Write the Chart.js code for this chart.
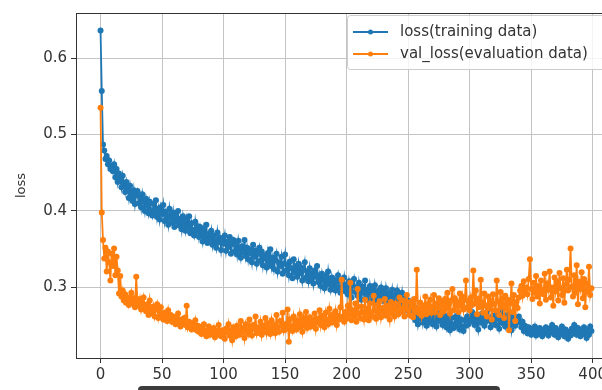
<!DOCTYPE html>
<html>
<head>
<meta charset="utf-8">
<script src="https://cdn.jsdelivr.net/npm/chart.js@4"></script>
<style>
  body { margin: 0; background: #fff; overflow: hidden; width: 602px; height: 390px; }
  .wrap { position: relative; width: 626px; height: 390px; }
  .scrollbar { position: absolute; left: 138px; top: 386px; width: 362px; height: 8px; background: #3c3c3c; border-radius: 4px; }
</style>
</head>
<body>
<div class="wrap"><canvas id="myChart" width="626" height="390"></canvas></div>
<div class="scrollbar"></div>
<script>
const xTicks = [0, 50, 100, 150, 200, 250, 300, 350, 400];
const yTicks = [0.3, 0.4, 0.5, 0.6];

// loss(training data), one value per epoch
const loss = [
  0.636, 0.557, 0.487, 0.479, 0.468, 0.472, 0.461, 0.466, 0.455, 0.459,
  0.452, 0.461, 0.444, 0.455, 0.438, 0.449, 0.442, 0.431, 0.446, 0.436,
  0.425, 0.438, 0.429, 0.417, 0.433, 0.422, 0.413, 0.427, 0.409, 0.421,
  0.426, 0.410, 0.419, 0.405, 0.422, 0.412, 0.400, 0.416, 0.407, 0.397,
  0.412, 0.401, 0.394, 0.409, 0.398, 0.414, 0.392, 0.403, 0.389, 0.405,
  0.396, 0.408, 0.387, 0.399, 0.393, 0.382, 0.403, 0.391, 0.385, 0.398,
  0.379, 0.394, 0.386, 0.400, 0.381, 0.390, 0.376, 0.393, 0.383, 0.374,
  0.389, 0.378, 0.393, 0.371, 0.384, 0.375, 0.368, 0.386, 0.373, 0.380,
  0.366, 0.379, 0.371, 0.360, 0.376, 0.364, 0.382, 0.358, 0.370, 0.363,
  0.374, 0.356, 0.368, 0.361, 0.352, 0.372, 0.359, 0.365, 0.349, 0.363,
  0.357, 0.368, 0.348, 0.360, 0.353, 0.366, 0.344, 0.357, 0.362, 0.347,
  0.356, 0.343, 0.361, 0.350, 0.339, 0.354, 0.346, 0.362, 0.341, 0.352,
  0.337, 0.350, 0.345, 0.333, 0.356, 0.340, 0.348, 0.331, 0.344, 0.352,
  0.335, 0.347, 0.329, 0.342, 0.338, 0.326, 0.345, 0.333, 0.350, 0.328,
  0.339, 0.324, 0.336, 0.344, 0.321, 0.333, 0.328, 0.340, 0.318, 0.331,
  0.343, 0.322, 0.330, 0.316, 0.334, 0.325, 0.312, 0.337, 0.320, 0.328,
  0.314, 0.331, 0.319, 0.326, 0.309, 0.323, 0.333, 0.313, 0.321, 0.308,
  0.325, 0.311, 0.318, 0.305, 0.322, 0.314, 0.328, 0.307, 0.316, 0.302,
  0.318, 0.309, 0.299, 0.315, 0.304, 0.321, 0.306, 0.297, 0.313, 0.303,
  0.310, 0.296, 0.307, 0.316, 0.300, 0.293, 0.309, 0.302, 0.313, 0.295,
  0.304, 0.291, 0.308, 0.298, 0.287, 0.303, 0.311, 0.294, 0.300, 0.289,
  0.306, 0.295, 0.284, 0.301, 0.293, 0.309, 0.288, 0.297, 0.283, 0.302,
  0.290, 0.298, 0.285, 0.303, 0.292, 0.280, 0.296, 0.289, 0.300, 0.284,
  0.294, 0.282, 0.299, 0.287, 0.276, 0.293, 0.285, 0.297, 0.279, 0.290,
  0.284, 0.296, 0.278, 0.289, 0.281, 0.293, 0.274, 0.286, 0.279, 0.270,
  0.283, 0.272, 0.266, 0.279, 0.262, 0.274, 0.257, 0.268, 0.252, 0.264,
  0.259, 0.270, 0.254, 0.266, 0.258, 0.250, 0.264, 0.255, 0.271, 0.261,
  0.252, 0.267, 0.258, 0.249, 0.263, 0.256, 0.269, 0.260, 0.251, 0.265,
  0.257, 0.248, 0.262, 0.254, 0.244, 0.260, 0.252, 0.247, 0.261, 0.250,
  0.263, 0.253, 0.245, 0.258, 0.249, 0.243, 0.257, 0.250, 0.262, 0.252,
  0.262, 0.256, 0.268, 0.258, 0.251, 0.263, 0.257, 0.245, 0.260, 0.254,
  0.266, 0.258, 0.250, 0.262, 0.256, 0.271, 0.259, 0.248, 0.255, 0.263,
  0.257, 0.251, 0.264, 0.259, 0.246, 0.256, 0.268, 0.253, 0.260, 0.249,
  0.258, 0.265, 0.252, 0.261, 0.244, 0.257, 0.263, 0.250, 0.259, 0.254,
  0.262, 0.256, 0.248, 0.255, 0.243, 0.250, 0.246, 0.240, 0.248, 0.243,
  0.238, 0.246, 0.241, 0.249, 0.237, 0.244, 0.239, 0.247, 0.242, 0.236,
  0.245, 0.240, 0.248, 0.243, 0.237, 0.246, 0.241, 0.251, 0.244, 0.238,
  0.247, 0.242, 0.235, 0.244, 0.239, 0.249, 0.243, 0.236, 0.245, 0.240,
  0.233, 0.242, 0.237, 0.246, 0.240, 0.251, 0.244, 0.238, 0.247, 0.241,
  0.236, 0.245, 0.239, 0.248, 0.242, 0.234, 0.244, 0.238, 0.249, 0.243
];

// val_loss(evaluation data), one value per epoch
const valLoss = [
  0.535, 0.398, 0.362, 0.338, 0.352, 0.321, 0.347, 0.333, 0.309, 0.344,
  0.328, 0.351, 0.316, 0.340, 0.322, 0.292, 0.315, 0.288, 0.296, 0.283,
  0.291, 0.280, 0.287, 0.277, 0.284, 0.293, 0.279, 0.286, 0.274, 0.314,
  0.281, 0.276, 0.285, 0.271, 0.279, 0.287, 0.273, 0.269, 0.278, 0.264,
  0.283, 0.270, 0.266, 0.275, 0.262, 0.271, 0.278, 0.260, 0.268, 0.274,
  0.263, 0.258, 0.267, 0.261, 0.256, 0.270, 0.259, 0.264, 0.255, 0.262,
  0.257, 0.252, 0.261, 0.266, 0.254, 0.249, 0.258, 0.253, 0.260, 0.251,
  0.276, 0.248, 0.255, 0.250, 0.245, 0.253, 0.247, 0.257, 0.244, 0.250,
  0.242, 0.248, 0.239, 0.246, 0.252, 0.241, 0.236, 0.244, 0.249, 0.238,
  0.245, 0.240, 0.247, 0.235, 0.243, 0.238, 0.251, 0.242, 0.236, 0.244,
  0.239, 0.233, 0.246, 0.241, 0.252, 0.237, 0.244, 0.231, 0.248, 0.242,
  0.236, 0.250, 0.243, 0.238, 0.256, 0.241, 0.247, 0.234, 0.252, 0.245,
  0.239, 0.258, 0.244, 0.237, 0.251, 0.246, 0.262, 0.240, 0.248, 0.243,
  0.255, 0.238, 0.250, 0.244, 0.260, 0.241, 0.253, 0.247, 0.239, 0.257,
  0.245, 0.251, 0.240, 0.264, 0.248, 0.242, 0.256, 0.250, 0.267, 0.244,
  0.252, 0.246, 0.271, 0.229, 0.258, 0.249, 0.243, 0.262, 0.251, 0.245,
  0.257, 0.248, 0.265, 0.253, 0.242, 0.260, 0.250, 0.268, 0.247, 0.255,
  0.261, 0.249, 0.258, 0.252, 0.266, 0.246, 0.259, 0.254, 0.270, 0.251,
  0.263, 0.256, 0.248, 0.267, 0.258, 0.252, 0.272, 0.260, 0.254, 0.265,
  0.257, 0.269, 0.251, 0.263, 0.258, 0.274, 0.310, 0.262, 0.255, 0.268,
  0.259, 0.276, 0.264, 0.306, 0.257, 0.270, 0.262, 0.279, 0.255, 0.298,
  0.266, 0.260, 0.275, 0.268, 0.258, 0.284, 0.263, 0.272, 0.257, 0.279,
  0.267, 0.262, 0.289, 0.270, 0.259, 0.277, 0.265, 0.282, 0.261, 0.273,
  0.268, 0.285, 0.263, 0.276, 0.270, 0.258, 0.281, 0.266, 0.274, 0.262,
  0.279, 0.271, 0.265, 0.287, 0.272, 0.268, 0.283, 0.262, 0.276, 0.290,
  0.270, 0.264, 0.281, 0.275, 0.261, 0.285, 0.268, 0.323, 0.272, 0.266,
  0.280, 0.263, 0.276, 0.269, 0.288, 0.265, 0.278, 0.272, 0.284, 0.267,
  0.275, 0.290, 0.268, 0.279, 0.273, 0.286, 0.264, 0.281, 0.276, 0.269,
  0.285, 0.272, 0.293, 0.277, 0.266, 0.283, 0.298, 0.270, 0.286, 0.275,
  0.281, 0.268, 0.292, 0.276, 0.288, 0.271, 0.284, 0.309, 0.274, 0.282,
  0.270, 0.287, 0.277, 0.322, 0.279, 0.296, 0.265, 0.285, 0.274, 0.310,
  0.280, 0.267, 0.292, 0.276, 0.262, 0.288, 0.273, 0.283, 0.258, 0.291,
  0.278, 0.270, 0.309, 0.282, 0.264, 0.294, 0.275, 0.286, 0.260, 0.289,
  0.272, 0.284, 0.244, 0.279, 0.305, 0.268, 0.290, 0.256, 0.281, 0.273,
  0.287, 0.296, 0.302, 0.289, 0.308, 0.294, 0.300, 0.291, 0.311, 0.337,
  0.298, 0.285, 0.306, 0.293, 0.315, 0.288, 0.302, 0.279, 0.309, 0.296,
  0.291, 0.318, 0.284, 0.305, 0.297, 0.321, 0.287, 0.300, 0.276, 0.313,
  0.295, 0.308, 0.283, 0.319, 0.299, 0.290, 0.312, 0.280, 0.304, 0.323,
  0.296, 0.310, 0.351, 0.301, 0.288, 0.316, 0.293, 0.329, 0.278, 0.307,
  0.298, 0.320, 0.286, 0.311, 0.274, 0.305, 0.294, 0.327, 0.290, 0.299
];

const FONT = 'DejaVu Sans';
const TEXT = '#333333';

function toPoints(values) {
  return values.map((v, i) => ({ x: i, y: v }));
}

// matplotlib-style frame (top / right spines) and legend box
const frameAndLegend = {
  id: 'frameAndLegend',
  afterDraw(chart) {
    const { ctx, chartArea } = chart;
    ctx.save();
    ctx.strokeStyle = '#333';
    ctx.lineWidth = 1;
    ctx.beginPath();
    ctx.moveTo(chartArea.left, chartArea.top + 0.5);
    ctx.lineTo(chartArea.right, chartArea.top + 0.5);
    ctx.lineTo(chartArea.right - 0.5, chartArea.bottom);
    ctx.stroke();

    // legend
    const bx = 347, by = 15, bw = 270, bh = 54;
    ctx.fillStyle = 'rgba(255,255,255,0.8)';
    ctx.strokeStyle = '#cccccc';
    ctx.beginPath();
    ctx.roundRect(bx + 0.5, by + 0.5, bw, bh, 3);
    ctx.fill();
    ctx.stroke();

    ctx.font = '15px ' + FONT;
    ctx.textBaseline = 'middle';
    chart.data.datasets.forEach((ds, i) => {
      const rowY = 32 + i * 22;
      ctx.strokeStyle = ds.borderColor;
      ctx.lineWidth = 1.8;
      ctx.beginPath();
      ctx.moveTo(353, rowY);
      ctx.lineTo(388, rowY);
      ctx.stroke();
      ctx.fillStyle = ds.borderColor;
      ctx.beginPath();
      ctx.arc(370.5, rowY, 2.5, 0, Math.PI * 2);
      ctx.fill();
      ctx.fillStyle = TEXT;
      ctx.fillText(ds.label, 400, rowY);
    });
    ctx.restore();
  }
};

const ctx = document.getElementById('myChart');

new Chart(ctx, {
  type: 'line',
  data: {
    datasets: [
      {
        label: 'loss(training data)',
        data: toPoints(loss),
        borderColor: '#1f77b4',
        backgroundColor: '#1f77b4',
        borderWidth: 1.8,
        pointRadius: 3,
        pointBorderWidth: 0,
        tension: 0,
        order: 2
      },
      {
        label: 'val_loss(evaluation data)',
        data: toPoints(valLoss),
        borderColor: '#ff7f0e',
        backgroundColor: '#ff7f0e',
        borderWidth: 1.8,
        pointRadius: 3,
        pointBorderWidth: 0,
        tension: 0,
        order: 1
      }
    ]
  },
  options: {
    responsive: false,
    animation: false,
    devicePixelRatio: 1,
    layout: { padding: { left: 10, top: 6, right: 10, bottom: 0 } },
    scales: {
      x: {
        type: 'linear',
        min: -19.95,
        max: 418.95,
        afterBuildTicks: (scale) => { scale.ticks = xTicks.map(v => ({ value: v })); },
        afterFit: (scale) => { scale.height = 32; },
        grid: { color: '#c4c4c4', lineWidth: 1, tickLength: 5, tickColor: '#333' },
        border: { display: true, color: '#333', width: 1 },
        ticks: {
          autoSkip: false,
          maxRotation: 0,
          padding: 3,
          color: TEXT,
          font: { family: FONT, size: 15 }
        }
      },
      y: {
        min: 0.2077,
        max: 0.659,
        afterBuildTicks: (scale) => { scale.ticks = yTicks.map(v => ({ value: v })); },
        afterFit: (scale) => { scale.width = 66; },
        grid: { color: '#c4c4c4', lineWidth: 1, tickLength: 5, tickColor: '#333' },
        border: { display: true, color: '#333', width: 1 },
        title: {
          display: true,
          text: 'loss',
          color: TEXT,
          font: { family: FONT, size: 13 },
          padding: { top: 4, bottom: 0 }
        },
        ticks: {
          padding: 4,
          color: TEXT,
          font: { family: FONT, size: 15 },
          callback: (value) => value.toFixed(1)
        }
      }
    },
    plugins: {
      legend: { display: false },
      tooltip: { enabled: false }
    }
  },
  plugins: [frameAndLegend]
});
</script>
</body>
</html>
